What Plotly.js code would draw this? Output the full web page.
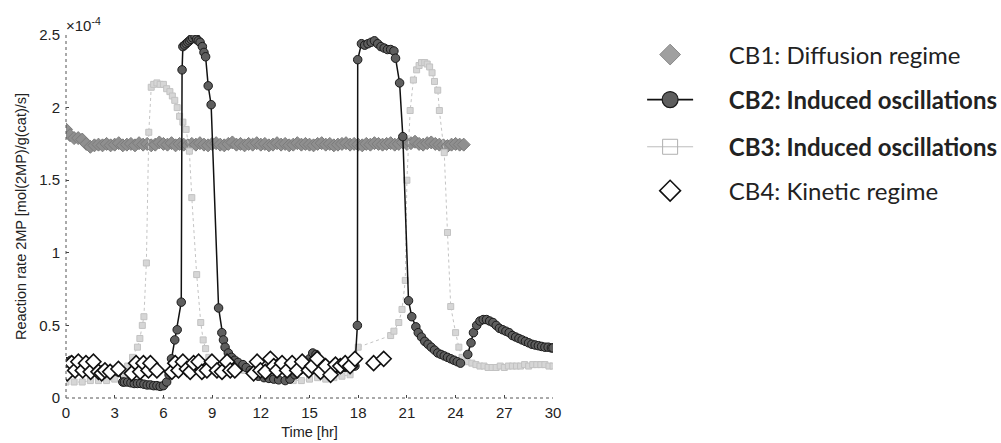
<!DOCTYPE html>
<html>
<head>
<meta charset="utf-8">
<script src="https://cdn.plot.ly/plotly-3.0.1.min.js"></script>
<style>html,body{margin:0;padding:0;background:#fff;}#chart{width:1001px;height:443px;}</style>
</head>
<body>
<div id="chart"></div>
<script>
// Reaction rate 2MP in units of 1e-4 mol(2MP)/g(cat)/s
const cb1Time = [0,0.25,0.5,0.75,1,1.25,1.5,1.75,2,2.25,2.5,2.75,3,3.25,3.5,3.75,4,4.25,4.5,4.75,5,5.25,5.5,5.75,6,6.25,6.5,6.75,7,7.25,7.5,7.75,8,8.25,8.5,8.75,9,9.25,9.5,9.75,10,10.25,10.5,10.75,11,11.25,11.5,11.75,12,12.25,12.5,12.75,13,13.25,13.5,13.75,14,14.25,14.5,14.75,15,15.25,15.5,15.75,16,16.25,16.5,16.75,17,17.25,17.5,17.75,18,18.25,18.5,18.75,19,19.25,19.5,19.75,20,20.25,20.5,20.75,21,21.25,21.5,21.75,22,22.25,22.5,22.75,23,23.25,23.5,23.75,24,24.25,24.5];
const cb1Rate = [1.85,1.81,1.79,1.79,1.78,1.75,1.73,1.74,1.745,1.74,1.75,1.74,1.745,1.755,1.74,1.745,1.75,1.74,1.755,1.745,1.75,1.74,1.745,1.76,1.75,1.745,1.755,1.74,1.75,1.745,1.74,1.75,1.745,1.755,1.745,1.74,1.75,1.755,1.745,1.74,1.75,1.76,1.745,1.75,1.74,1.75,1.745,1.755,1.745,1.75,1.74,1.745,1.755,1.745,1.75,1.74,1.745,1.755,1.745,1.75,1.745,1.74,1.75,1.755,1.745,1.75,1.74,1.745,1.75,1.755,1.745,1.75,1.745,1.74,1.75,1.745,1.755,1.75,1.745,1.75,1.755,1.745,1.75,1.76,1.75,1.755,1.765,1.75,1.745,1.755,1.76,1.75,1.745,1.74,1.735,1.745,1.75,1.745,1.745];

const cb2Time = [0,0.3,0.6,1.0,1.3,1.6,2.0,2.4,2.8,3.2,3.5,3.6,3.8,4.0,4.2,4.4,4.6,4.8,5.0,5.2,5.4,5.6,5.8,6.0,6.2,6.35,6.5,6.7,6.85,7.1,7.15,7.2,7.3,7.4,7.5,7.6,7.7,7.8,7.95,8.05,8.15,8.26,8.4,8.5,8.6,8.76,8.94,9.4,9.6,9.7,9.8,10.0,10.2,10.4,10.6,10.9,11.1,11.35,11.6,11.85,12.2,12.5,12.8,13.1,13.5,13.8,14.1,14.4,14.75,15.0,15.2,15.4,15.6,15.8,16.0,16.3,16.6,16.9,17.2,17.5,17.8,17.95,17.97,18.2,18.4,18.6,18.8,19.0,19.2,19.4,19.6,19.8,20.0,20.2,20.3,20.55,20.75,21.1,21.3,21.55,21.7,21.9,22.1,22.3,22.5,22.7,22.9,23.1,23.3,23.5,23.7,23.9,24.1,24.3,24.5,24.75,24.95,25.1,25.3,25.5,25.7,25.9,26.1,26.3,26.5,26.7,26.9,27.1,27.3,27.5,27.7,27.9,28.1,28.3,28.5,28.7,28.9,29.1,29.3,29.5,29.7,29.9,30.0];
const cb2Rate = [0.25,0.26,0.24,0.22,0.20,0.18,0.19,0.20,0.19,0.18,0.11,0.11,0.11,0.105,0.10,0.10,0.10,0.095,0.09,0.09,0.085,0.085,0.08,0.085,0.11,0.16,0.27,0.40,0.47,0.66,2.26,2.42,2.43,2.44,2.45,2.46,2.47,2.48,2.49,2.47,2.46,2.45,2.42,2.38,2.35,2.15,2.02,0.62,0.45,0.40,0.35,0.31,0.28,0.26,0.245,0.23,0.21,0.19,0.17,0.15,0.14,0.135,0.13,0.125,0.12,0.13,0.16,0.19,0.22,0.27,0.31,0.30,0.26,0.23,0.21,0.20,0.20,0.20,0.21,0.21,0.22,0.50,2.33,2.44,2.43,2.44,2.45,2.46,2.44,2.42,2.41,2.40,2.40,2.39,2.34,2.17,1.80,0.67,0.56,0.49,0.45,0.42,0.39,0.37,0.35,0.33,0.31,0.30,0.29,0.28,0.27,0.26,0.25,0.24,null,0.30,0.38,0.45,0.50,0.53,0.54,0.54,0.53,0.52,0.50,0.48,0.47,0.46,0.45,0.43,0.42,0.41,0.40,0.39,0.38,0.37,0.365,0.36,0.355,0.35,0.35,0.345,0.345];

const cb3Time = [0,0.5,1,1.5,2,2.5,3,3.5,3.8,4.1,4.4,4.55,4.7,4.8,4.95,5.1,5.25,5.4,5.6,5.8,6.0,6.2,6.4,6.55,6.7,6.85,7.0,7.2,7.4,7.6,7.75,8.05,8.3,8.45,8.6,8.8,9.0,9.5,10,10.5,11,11.5,12,12.5,13,13.5,14,14.5,15,15.5,16,16.5,17,17.5,18.0,20.0,20.2,20.5,20.7,20.9,21.0,21.2,21.4,21.6,21.75,21.9,22.1,22.25,22.4,22.55,22.7,22.9,23.0,23.3,23.5,23.7,24.0,24.2,24.4,24.7,25.0,25.25,25.5,25.75,26,26.25,26.5,26.75,27,27.25,27.5,27.75,28,28.25,28.5,28.75,29,29.25,29.5,29.75,30];
const cb3Rate = [0.11,0.11,0.11,0.12,0.12,0.12,0.13,0.17,0.22,0.28,0.35,0.41,0.50,0.56,0.93,1.83,2.14,2.16,2.17,2.16,2.16,2.13,2.11,2.08,2.05,2.00,1.94,1.90,1.85,1.70,1.38,0.85,0.52,0.40,0.34,0.28,0.24,0.22,0.21,0.20,0.19,0.17,0.15,0.14,0.13,0.12,0.12,0.12,0.13,0.14,0.13,0.14,0.15,0.16,0.35,0.43,0.46,0.52,0.61,0.81,1.50,1.98,2.19,2.26,2.29,2.31,2.31,2.30,2.28,2.24,2.18,2.12,1.98,1.69,1.14,0.63,0.45,0.35,0.28,0.25,0.24,0.23,0.22,0.22,0.21,0.21,0.21,0.22,0.21,0.22,0.22,0.22,0.22,0.23,0.22,0.23,0.23,0.23,0.23,0.22,0.22];

const cb4Time = [0.08,0.35,0.56,0.76,1.03,1.23,1.52,1.69,2.0,2.2,2.4,2.72,3.23,4.05,4.32,4.57,4.77,5.08,5.2,5.6,6.52,6.73,6.93,7.2,7.45,7.65,7.86,8.17,8.37,8.68,8.99,9.3,9.61,9.92,10.12,10.4,11.56,11.77,11.98,12.28,12.59,12.8,13.0,13.31,13.62,13.93,14.24,14.55,14.96,15.17,15.47,15.68,15.99,16.3,16.6,16.9,17.2,17.5,17.8,18.95,19.57];
const cb4Rate = [0.17,0.24,0.19,0.25,0.19,0.24,0.18,0.25,0.18,0.17,0.19,0.18,0.20,0.17,0.24,0.18,0.24,0.19,0.24,0.19,0.18,0.24,0.19,0.25,0.20,0.18,0.24,0.25,0.18,0.19,0.25,0.19,0.18,0.25,0.19,0.19,0.17,0.25,0.19,0.18,0.27,0.22,0.19,0.24,0.19,0.24,0.19,0.25,0.19,0.22,0.27,0.18,0.22,0.16,0.23,0.22,0.24,0.22,0.27,0.24,0.27];

const seriesNames = ['CB1: Diffusion regime','<b>CB2: Induced oscillations</b>','<b>CB3: Induced oscillations</b>','CB4: Kinetic regime'];
const xTicks = [0,3,6,9,12,15,18,21,24,27,30];
const yTicks = [0,0.5,1,1.5,2,2.5];
const yTickText = ['0','0.5','1','1.5','2','2.5'];

const sty = {
  cb1: {marker: {symbol: 'diamond', size: 10, color: '#8f8f8f', line: {color: '#7c7c7c', width: 1}}},
  cb2: {line: {color: '#111111', width: 1.5}, marker: {symbol: 'circle', size: 8.5, color: '#5e5e5e', line: {color: '#1a1a1a', width: 1}}},
  cb3: {line: {color: '#c4c4c4', width: 1, dash: 'dot'}, marker: {symbol: 'square', size: 6, color: '#d6d6d6', line: {color: '#c2c2c2', width: 1}}},
  cb4: {marker: {symbol: 'diamond', size: 11.5, color: '#ffffff', line: {color: '#111111', width: 1.6}}}
};

const pad = '\u00a0\u00a0\u00a0\u00a0\u00a0';
const traces = [
  {x: cb1Time, y: cb1Rate, mode: 'markers', showlegend: false, marker: sty.cb1.marker},
  {x: cb3Time, y: cb3Rate, mode: 'lines+markers', showlegend: false, line: sty.cb3.line, marker: sty.cb3.marker},
  {x: cb2Time, y: cb2Rate, mode: 'lines+markers', showlegend: false, line: sty.cb2.line, marker: sty.cb2.marker},
  {x: cb4Time, y: cb4Rate, mode: 'markers', showlegend: false, marker: sty.cb4.marker},
  // legend entries (a single empty point each, nothing drawn in the plot)
  {x: [null], y: [null], name: pad + seriesNames[0], mode: 'markers', legend: 'legend', showlegend: true,
   marker: {symbol: 'diamond', size: 16, color: '#a0a0a0', line: {color: '#8a8a8a', width: 1}}},
  {x: [null], y: [null], name: pad + seriesNames[1], mode: 'lines+markers', legend: 'legend2', showlegend: true,
   line: {color: '#111111', width: 1.8}, marker: {symbol: 'circle', size: 16, color: '#5e5e5e', line: {color: '#1a1a1a', width: 1.2}}},
  {x: [null], y: [null], name: pad + seriesNames[2], mode: 'lines+markers', legend: 'legend3', showlegend: true,
   line: {color: '#bdbdbd', width: 1}, marker: {symbol: 'square-open', size: 15, color: '#b0b0b0', line: {width: 1}}},
  {x: [null], y: [null], name: pad + seriesNames[3], mode: 'markers', legend: 'legend4', showlegend: true,
   marker: {symbol: 'diamond', size: 16, color: '#ffffff', line: {color: '#111111', width: 1.6}}}
];

const legFont = {family: 'Lato, "Open Sans", sans-serif', size: 24, color: '#222'};
function leg(y) {
  return {x: 1.183, y: y, xanchor: 'left', yanchor: 'middle', bgcolor: 'rgba(0,0,0,0)',
          font: legFont, itemwidth: 46, itemsizing: 'trace'};
}

const layout = {
  width: 1001, height: 443,
  margin: {l: 66, r: 448, t: 35, b: 45, pad: 0, autoexpand: false},
  paper_bgcolor: '#ffffff', plot_bgcolor: '#ffffff',
  font: {family: '"Liberation Sans", Arial, sans-serif', size: 15, color: '#222'},
  showlegend: true,
  legend: leg(0.945), legend2: leg(0.821), legend3: leg(0.691), legend4: leg(0.570),
  xaxis: {range: [0, 30], tickvals: xTicks, ticks: 'inside', ticklen: 3, tickcolor: '#444',
          showgrid: false, zeroline: false, showline: false, ticklabelstandoff: 4,
          title: {text: 'Time [hr]', font: {size: 14.5}, standoff: 6}},
  yaxis: {range: [0, 2.5], tickvals: yTicks, ticktext: yTickText, ticks: 'inside', ticklen: 3, tickcolor: '#444',
          showgrid: false, zeroline: false, showline: false, ticklabelstandoff: 5,
          title: {text: 'Reaction rate 2MP [mol(2MP)/g(cat)/s]', font: {size: 14.5}, standoff: 9}},
  shapes: [
    {type: 'line', xref: 'paper', yref: 'paper', x0: 0, x1: 1, y0: 0, y1: 0, line: {color: '#555', width: 1, dash: 'dot'}},
    {type: 'line', xref: 'paper', yref: 'paper', x0: 0, x1: 0, y0: 0, y1: 1, line: {color: '#555', width: 1, dash: 'dot'}}
  ],
  annotations: [
    {xref: 'paper', yref: 'paper', x: -0.004, y: 1.03, xanchor: 'left', yanchor: 'middle', showarrow: false,
     text: '×10<sup>-4</sup>', font: {size: 15, color: '#222'}}
  ]
};

Plotly.newPlot('chart', traces, layout, {displayModeBar: false, staticPlot: true});
</script>
</body>
</html>
